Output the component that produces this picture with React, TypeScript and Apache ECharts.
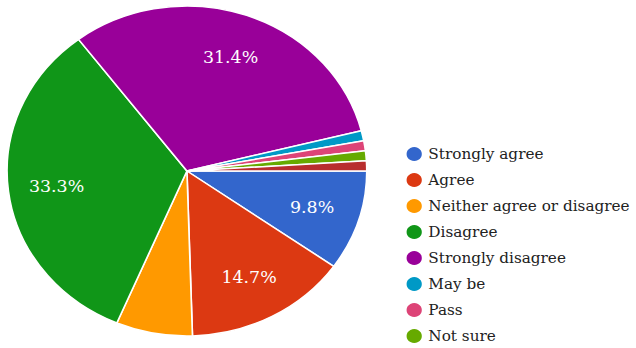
import { useEffect, useRef } from "react";
import * as echarts from "echarts";

const categories = [
  "Strongly agree",
  "Agree",
  "Neither agree or disagree",
  "Disagree",
  "Strongly disagree",
  "May be",
  "Pass",
  "Not sure",
  "Other",
];
const values = [10, 15, 7, 34, 32, 1, 1, 1, 1];
const colors = [
  "#3366cc",
  "#dc3912",
  "#ff9900",
  "#109618",
  "#990099",
  "#0099c6",
  "#dd4477",
  "#66aa00",
  "#b82e2e",
];
const legendNames = categories.slice(0, 8);

const SX = 1.09;
const W = 636 / SX;
const H = 420;
const FONT = "DejaVu Serif";

export default function App() {
  const ref = useRef<HTMLDivElement>(null);
  useEffect(() => {
    const chart = echarts.init(ref.current!, null, { renderer: "svg" });
    const data = categories.map((name, i) => ({
      name,
      value: values[i],
      itemStyle: { color: colors[i] },
    }));
    chart.setOption({
      animation: false,
      legend: {
        orient: "vertical",
        left: 371,
        top: 145,
        padding: 0,
        itemWidth: 16,
        itemHeight: 16,
        itemGap: 8,
        icon: "circle",
        selectedMode: false,
        data: legendNames,
        textStyle: { fontFamily: FONT, fontSize: 14, lineHeight: 17, color: "#222" },
      },
      series: [
        {
          type: "pie",
          center: [171.5, 171],
          radius: [0, 165],
          startAngle: 0,
          clockwise: true,
          avoidLabelOverlap: false,
          label: { show: false },
          labelLine: { show: false },
          itemStyle: { borderColor: "#fff", borderWidth: 1.5 },
          emphasis: { disabled: true },
          data,
        },
        {
          type: "pie",
          center: [171.5, 171],
          radius: [70, 165],
          startAngle: 0,
          clockwise: true,
          silent: true,
          percentPrecision: 1,
          avoidLabelOverlap: false,
          legendHoverLink: false,
          itemStyle: { color: "transparent", borderWidth: 0 },
          emphasis: { disabled: true },
          labelLine: { show: false },
          label: {
            show: true,
            position: "inside",
            color: "#fff",
            fontFamily: FONT,
            fontSize: 16,
            formatter: (p: any) => (p.percent >= 9 ? p.percent.toFixed(1) + "%" : ""),
          },
          data: categories.map((name, i) => ({ name, value: values[i] })),
        },
      ],
    });
    return () => chart.dispose();
  }, []);
  return (
    <div
      style={{
        position: "fixed",
        left: 0,
        top: 0,
        width: 636,
        height: 348,
        overflow: "hidden",
        background: "#fff",
      }}
    >
      <div
        ref={ref}
        style={{ width: W, height: H, transform: `scaleX(${SX})`, transformOrigin: "0 0" }}
      />
    </div>
  );
}
